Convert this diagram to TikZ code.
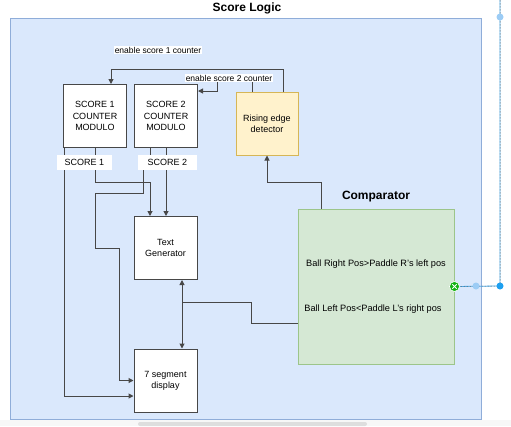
\documentclass[tikz,border=0pt]{standalone}
\usepackage{fontspec}
\setmainfont{Liberation Sans}
\usetikzlibrary{arrows.meta}
\definecolor{contfill}{HTML}{DAE8FC}
\definecolor{contdraw}{HTML}{8FADD9}
\definecolor{yelfill}{HTML}{FFF2CC}
\definecolor{yeldraw}{HTML}{D6B656}
\definecolor{grnfill}{HTML}{D5E8D4}
\definecolor{grndraw}{HTML}{9CC58A}
\definecolor{linec}{HTML}{474747}
\definecolor{selblue}{HTML}{4AAEF0}
\definecolor{sellight}{HTML}{9CCCF5}
\definecolor{selblued}{HTML}{1EA0F0}
\definecolor{selgreen}{HTML}{12B312}
\tikzset{
  blk/.style={draw=linec, line width=1pt, fill=white, minimum width=63pt, minimum height=63pt, align=center, font=\fontsize{9}{11.3}\selectfont, inner sep=0pt},
  arr/.style={draw=linec, line width=1pt, -{Triangle[length=5pt,width=5pt]}},
  ln/.style={draw=linec, line width=1pt},
  lbl/.style={fill=white, font=\fontsize{8.5}{10}\selectfont, inner sep=1pt},
  slbl/.style={fill=white, font=\fontsize{9}{10}\selectfont, inner sep=0pt, minimum height=15pt},
  ttl/.style={font=\bfseries\fontsize{12}{14}\selectfont},
  ctxt/.style={font=\fontsize{9.2}{11}\selectfont}
}
\begin{document}
\begin{tikzpicture}[x=1pt,y=-1pt]
\useasboundingbox (0,0) rectangle (511,426);
\fill[white] (0,0) rectangle (511,426);
% container
\draw[fill=contfill, draw=contdraw, line width=1pt] (10,18) rectangle (481,419);
\fill[black!3] (0,419.5) rectangle (511,426);
\fill[black!13, rounded corners=2pt] (138,422) rectangle (367,426);
\node[ttl] (title) at (247,8) {Score Logic};
% blocks
\node[blk] (s1) at (95,116) {SCORE 1\\COUNTER\\MODULO};
\node[blk] (s2) at (166,116) {SCORE 2\\COUNTER\\MODULO};
\node[blk, fill=yelfill, draw=yeldraw, minimum width=62pt] (red) at (267,123.5) {Rising edge\\detector};
\node[blk] (tg) at (165.5,248) {Text\\Generator};
\node[blk] (seg) at (165.5,380.5) {7 segment\\display};
\node[draw=grndraw, fill=grnfill, line width=0.9pt, minimum width=156pt, minimum height=155pt, inner sep=0pt] (cmp) at (376,286.5) {};
\node[ttl] (cmpt) at (376,197) {Comparator};
\node[ctxt] (c1) at (376,264) {Ball Right Pos>Paddle R's left pos};
\node[ctxt] (c2) at (373,309) {Ball Left Pos<Paddle L's right pos};
% enable edges
\coordinate (j1) at (283,69);
\coordinate (j2) at (217,78);
\draw[arr] ([xshift=16pt]red.north) |- (j1) -| ([xshift=16pt]s1.north);
\draw[arr] ([xshift=-15pt]red.north) |- (j2) |- ([yshift=25pt]s2.east);
\node[lbl] (e1) at (158,50) {enable score 1 counter};
\node[lbl] (e2) at (229,78) {enable score 2 counter};
% score outputs
\coordinate (k1) at (95,182);
\draw[arr] (s1.south) |- (k1) -| ([xshift=-15.5pt]tg.north);
\draw[arr] ([xshift=-31pt]s1.south) |- ([yshift=-15.5pt]seg.west);
\draw[arr] (s2.south) -- (s2.south |- tg.north);
\coordinate (m1) at (150,162);
\coordinate (m2) at (143,193);
\coordinate (m3) at (95,248);
\coordinate (m4) at (119,380.5);
\draw[arr] ([xshift=-16pt]s2.south) -- (m1) -| (m2) -| (m3) -| (m4) -- (seg.west);
\node[slbl, minimum width=55pt] (l1) at (84.5,162) {SCORE 1};
\node[slbl, minimum width=59pt] (l2) at (167.5,162) {SCORE 2};
% text gen <-> 7seg
\draw[ln, {Triangle[length=5pt,width=5pt]}-{Triangle[length=5pt,width=5pt]}] ([xshift=16.5pt]tg.south) -- ([xshift=16.5pt]seg.north);
\coordinate (b0) at (182,302);
\coordinate (b1) at (251,323);
\draw[ln] (b0) -| (b1) -- ([yshift=-36.5pt]cmp.west);
% comparator -> rising edge
\coordinate (r1) at (321,182);
\draw[arr] ([xshift=-55pt]cmp.north) |- (r1) -| (red.south);
% selection decorations
\coordinate (p0) at (500,0);
\coordinate (p1) at (500,286);
\draw[selblue, line width=0.8pt] (p0) -- (p1) -- (cmp.east);
\draw[linec!80, line width=0.5pt, dash pattern=on 1.5pt off 1.5pt] (p0) -- (p1) -- (cmp.east);
\fill[sellight] (500,17) circle (3.5);
\fill[sellight] (476,286) circle (3.5);
\fill[selblued] (p1) circle (3.5);
\node[circle, fill=selgreen, draw=white, line width=0.6pt, minimum size=10pt, inner sep=0pt] (gx) at (cmp.east) {};
\draw[white, line width=0.8pt] ([shift={(-2.2,-2.2)}]gx.center) -- ([shift={(2.2,2.2)}]gx.center);
\draw[white, line width=0.8pt] ([shift={(-2.2,2.2)}]gx.center) -- ([shift={(2.2,-2.2)}]gx.center);
\end{tikzpicture}
\end{document}
